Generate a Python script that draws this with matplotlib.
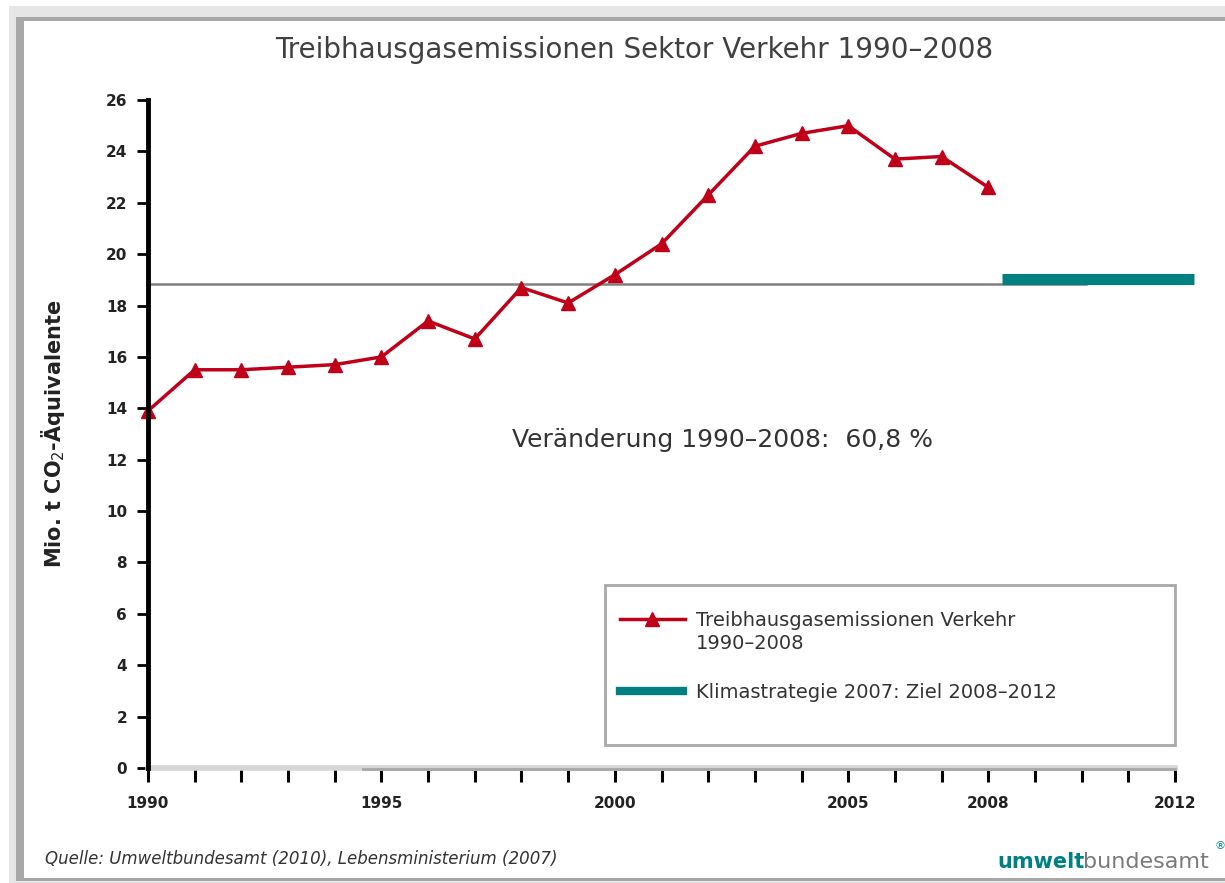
import numpy as np
import matplotlib.pyplot as plt
import matplotlib.transforms as mtransforms
from matplotlib.patches import Rectangle
from matplotlib.lines import Line2D

# data
years = list(range(1990, 2009))
emissions = [13.9, 15.5, 15.5, 15.6, 15.7, 16.0, 17.4, 16.7, 18.7, 18.1,
             19.2, 20.4, 22.3, 24.2, 24.7, 25.0, 23.7, 23.8, 22.6]
ref_level = 18.85
ref_years = [1990, 2010.1]
target_years = [2008.3, 2012.4]
target_value = 19.05
y_ticks = list(range(0, 27, 2))
x_labels = [1990, 1995, 2000, 2005, 2008, 2012]

red = '#c00018'
teal = '#008080'

W, H = 1225, 883
fig = plt.figure(figsize=(W / 100, H / 100), dpi=100)
fig.patch.set_facecolor('white')


def px_rect(x0, y0, x1, y1, color, z=0):
    # rectangle in pixel coords from the top left
    fig.patches.append(Rectangle((x0 / W, 1 - y1 / H), (x1 - x0) / W, (y1 - y0) / H,
                                 transform=fig.transFigure, facecolor=color,
                                 edgecolor='none', zorder=z))


# screenshot frame
px_rect(9, 6, W, 17, '#e6e6e6')
px_rect(9, 6, 16, H, '#e6e6e6')
px_rect(16, 17, W, 21, '#a8a8a8')
px_rect(16, 17, 24, 878, '#a8a8a8')
px_rect(16, 878, W, 881, '#a8a8a8')
px_rect(9, 881, W, H, '#e6e6e6')

ax = fig.add_axes([148 / W, 1 - 768 / H, 1027 / W, 668 / H])
ax.set_xlim(1990, 2012)
ax.set_ylim(0, 26)
ax.set_facecolor('none')

ax.plot(ref_years, [ref_level, ref_level], color='#808080', lw=1.8, zorder=2, clip_on=False)
ax.plot(target_years, [target_value, target_value], color=teal, lw=8,
        solid_capstyle='butt', zorder=3, clip_on=False)
ax.plot(years, emissions, color=red, lw=2.5, marker='^', markersize=10,
        markeredgecolor=red, markerfacecolor=red, zorder=4, clip_on=False)

for s in ['top', 'right']:
    ax.spines[s].set_visible(False)
ax.spines['left'].set_linewidth(3.5)
ax.spines['left'].set_color('black')
ax.spines['left'].set_zorder(5)
ax.spines['bottom'].set_color('#d6d6d6')
ax.spines['bottom'].set_linewidth(4)
# darker lower half of the x axis line
shift = mtransforms.ScaledTranslation(0, -1.0 / 72, fig.dpi_scale_trans)
ax.plot([1994.6, 2012], [0, 0], color='#a6a6a6', lw=2, clip_on=False,
        transform=ax.transData + shift, zorder=3)

ax.set_yticks(y_ticks)
ax.set_yticklabels([str(t) for t in y_ticks], fontsize=11, fontweight='bold',
                   color='#222222')
ax.tick_params(axis='y', length=8, width=2, color='black', pad=7)
ax.set_xticks(range(1990, 2013))
ax.set_xticklabels([str(y) if y in x_labels else '' for y in range(1990, 2013)],
                   fontsize=11, fontweight='bold', color='#222222')
ax.tick_params(axis='x', length=10, width=2.2, color='black', pad=10)

ax.set_ylabel('Mio. t CO$_2$-Äquivalente', fontsize=15, fontweight='bold',
              labelpad=28, color='#222222')

fig.text(0.518, 1 - 50 / H, 'Treibhausgasemissionen Sektor Verkehr 1990–2008',
         ha='center', va='center', fontsize=20, color='#404040')
ax.text(2002.3, 12.75, 'Veränderung 1990–2008:  60,8 %', ha='center', va='center',
        fontsize=18, color='#333333')

# legend box
fig.patches.append(Rectangle((605 / W, 1 - 745 / H), 570 / W, 160 / H,
                             transform=fig.transFigure, facecolor='white',
                             edgecolor='#a8a8a8', lw=2, zorder=5))
fig.lines.append(Line2D([620 / W, 685 / W], [1 - 619 / H, 1 - 619 / H],
                        transform=fig.transFigure, color=red, lw=2.5, zorder=6))
fig.lines.append(Line2D([652 / W], [1 - 619 / H], transform=fig.transFigure,
                        marker='^', markersize=10, color=red, zorder=6))
fig.lines.append(Line2D([620 / W, 683 / W], [1 - 691 / H, 1 - 691 / H],
                        transform=fig.transFigure, color=teal, lw=6, zorder=6))
fig.text(696 / W, 1 - 632 / H, 'Treibhausgasemissionen Verkehr\n1990–2008',
         ha='left', va='center', fontsize=14, color='#333333', zorder=7,
         linespacing=1.25)
fig.text(696 / W, 1 - 692 / H, 'Klimastrategie 2007: Ziel 2008–2012',
         ha='left', va='center', fontsize=14, color='#333333', zorder=7)

# footer
fig.text(45 / W, 1 - 859 / H, 'Quelle: Umweltbundesamt (2010), Lebensministerium (2007)',
         ha='left', va='center', fontsize=12, style='italic', color='#333333')
fig.text(997 / W, 1 - 862 / H, 'umwelt', ha='left', va='center', fontsize=15,
         color=teal, fontweight='bold')
fig.text(1083 / W, 1 - 862 / H, 'bundesamt', ha='left', va='center', fontsize=16,
         color='#7a7a7a')
fig.text(1214 / W, 1 - 846 / H, '®', ha='left', va='center', fontsize=8, color=teal)

fig.savefig('out.png', dpi=100)
